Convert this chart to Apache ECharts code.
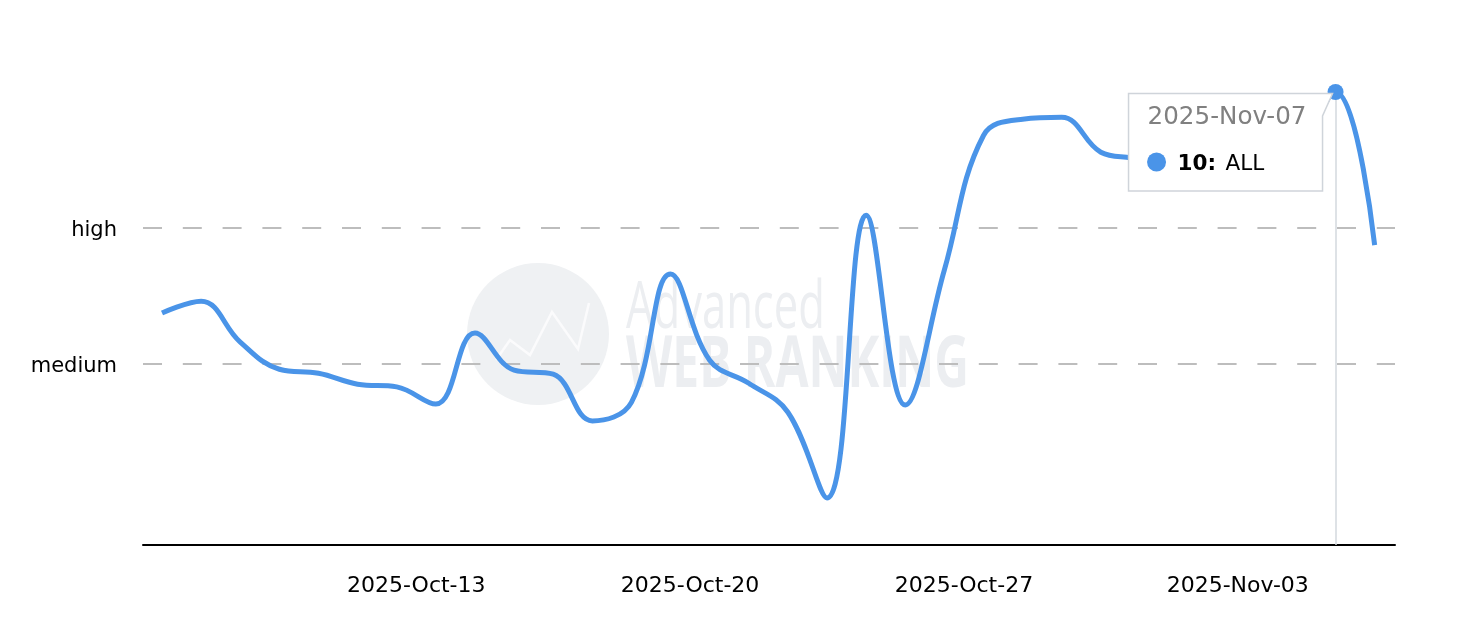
<!DOCTYPE html>
<html>
<head>
<meta charset="utf-8">
<script src="https://cdn.jsdelivr.net/npm/echarts@6/dist/echarts.min.js"></script>
<style>
html,body{margin:0;padding:0;background:#ffffff;}
#c{width:1474px;height:622px;}
</style>
</head>
<body>
<div id="c"></div>
<script>
// ---- data ----
const seriesName = 'ALL';
const pointDates = [
  '2025-Oct-08','2025-Oct-09','2025-Oct-10','2025-Oct-11','2025-Oct-12','2025-Oct-13','2025-Oct-14','2025-Oct-15',
  '2025-Oct-16','2025-Oct-17','2025-Oct-18','2025-Oct-19','2025-Oct-20','2025-Oct-21','2025-Oct-22','2025-Oct-23',
  '2025-Oct-24','2025-Oct-25','2025-Oct-26','2025-Oct-27','2025-Oct-28','2025-Oct-29','2025-Oct-30','2025-Oct-31',
  '2025-Nov-01','2025-Nov-02','2025-Nov-03','2025-Nov-04','2025-Nov-05','2025-Nov-06','2025-Nov-07','2025-Nov-08'
];
const values = [
  5.12, 5.38, 4.48, 3.88, 3.79, 3.55, 3.49, 3.11,
  4.68, 3.86, 3.77, 2.74, 3.15, 5.98, 4.08, 3.57,
  2.93, 1.04, 7.28, 3.09, 6.07, 9.04, 9.40, 9.44,
  8.67, 8.49, 7.88, 8.00, 8.27, 8.71, 10, 6.62
];
const tickLabels = ['2025-Oct-13', '2025-Oct-20', '2025-Oct-27', '2025-Nov-03'];
const tickPos = [6.5, 13.5, 20.5, 27.5];          // position of each tick on the point axis
const levelLabels = ['medium', 'high'];
const levelValues = [4, 7];
const highlightIndex = 30;

// ---- chart ----
const BLUE = '#4a94e8';
const chart = echarts.init(document.getElementById('c'));

const watermark = [
  { type: 'circle', shape: { cx: 538, cy: 334, r: 71 }, style: { fill: '#eff1f3' }, z: 0, silent: true },
  { type: 'polyline', shape: { points: [[496, 360], [510, 340], [530, 355], [552, 312], [578, 349], [589, 303]] },
    style: { stroke: '#fbfbfc', lineWidth: 2.5, fill: null }, z: 0, silent: true },
  { type: 'text', x: 626, y: 309, scaleX: 0.66, z: 0, silent: true,
    style: { text: 'Advanced', fontFamily: 'Open Sans', fontWeight: 'normal', fontSize: 66, fill: '#eceef1', verticalAlign: 'middle', align: 'left' } },
  { type: 'text', x: 626, y: 367, scaleX: 0.675, z: 0, silent: true,
    style: { text: 'WEB RANKING', fontFamily: 'Open Sans', fontWeight: 'bold', fontSize: 71, fill: '#eceef1', verticalAlign: 'middle', align: 'left' } }
];

const option = {
  animation: false,
  backgroundColor: '#ffffff',
  grid: { left: 143, right: 79, top: 92, bottom: 77, containLabel: false },
  xAxis: {
    type: 'value', min: -0.486, max: 31.52,
    axisLine: { show: true, onZero: false, lineStyle: { color: '#000000', width: 2 } },
    axisTick: { show: false },
    splitLine: { show: false },
    axisLabel: {
      customValues: tickPos,
      formatter: v => { const i = tickPos.indexOf(v); return i >= 0 ? tickLabels[i] : ''; },
      fontFamily: 'DejaVu Sans', fontSize: 22, color: '#000000', margin: 30
    }
  },
  yAxis: {
    type: 'value', min: 0, max: 10,
    axisLine: { show: false },
    axisTick: { show: false },
    splitLine: { show: false },
    axisLabel: {
      customValues: levelValues,
      formatter: v => { const i = levelValues.indexOf(v); return i >= 0 ? '{t|' + levelLabels[i] + '}' : ''; },
      margin: 26,
      rich: { t: { fontFamily: 'DejaVu Sans', fontSize: 21, color: '#000000', padding: [6, 0, 0, 0] } }
    }
  },
  graphic: { elements: watermark },
  series: [
    {
      name: seriesName,
      type: 'line',
      data: values.map((v, i) => [i, v]),
      smooth: 0.4,
      showSymbol: false,
      lineStyle: { color: BLUE, width: 5 },
      z: 3,
      silent: true,
      markLine: {
        silent: true, z: 1, symbol: ['none', 'none'], label: { show: false }, animation: false,
        emphasis: { disabled: true },
        data: [
          ...levelValues.map(v => ({ yAxis: v, lineStyle: { type: [19, 20.8], color: '#bdbdbd', width: 2 } })),
          { xAxis: highlightIndex, lineStyle: { type: 'solid', color: '#d3d8de', width: 1.5 } }
        ]
      }
    },
    {
      type: 'scatter',
      data: [[highlightIndex, values[highlightIndex]]],
      symbolSize: 16,
      itemStyle: { color: BLUE, opacity: 1 },
      z: 4,
      silent: true
    }
  ]
};
chart.setOption(option);

// tooltip box anchored at the highlighted point
const p = chart.convertToPixel({ seriesIndex: 0 }, [highlightIndex, values[highlightIndex]]);
const L = p[0] - 207, R = p[0] - 13, T = p[1] + 1.5, B = p[1] + 99;
const tooltip = [
  { type: 'polygon', z: 100, silent: true,
    shape: { points: [[L, T], [p[0] - 3, T], [R, p[1] + 24], [R, B], [L, B]] },
    style: { fill: '#ffffff', stroke: '#cfd4da', lineWidth: 1.5 } },
  { type: 'text', z: 101, silent: true, x: L + 19, y: p[1] + 26,
    style: { text: pointDates[highlightIndex], fontFamily: 'DejaVu Sans', fontSize: 24.6, fill: '#808080', verticalAlign: 'middle', align: 'left' } },
  { type: 'circle', z: 101, silent: true, shape: { cx: L + 28, cy: p[1] + 70, r: 9.5 }, style: { fill: BLUE } },
  { type: 'text', z: 101, silent: true, x: L + 49, y: p[1] + 72,
    style: { text: values[highlightIndex] + ':', fontFamily: 'DejaVu Sans', fontWeight: 'bold', fontSize: 21.5, fill: '#000000', verticalAlign: 'middle', align: 'left' } },
  { type: 'text', z: 101, silent: true, x: L + 97, y: p[1] + 72,
    style: { text: seriesName, fontFamily: 'DejaVu Sans', fontSize: 21.5, fill: '#000000', verticalAlign: 'middle', align: 'left' } }
];
chart.setOption({ graphic: { elements: watermark.concat(tooltip) } });
</script>
</body>
</html>
